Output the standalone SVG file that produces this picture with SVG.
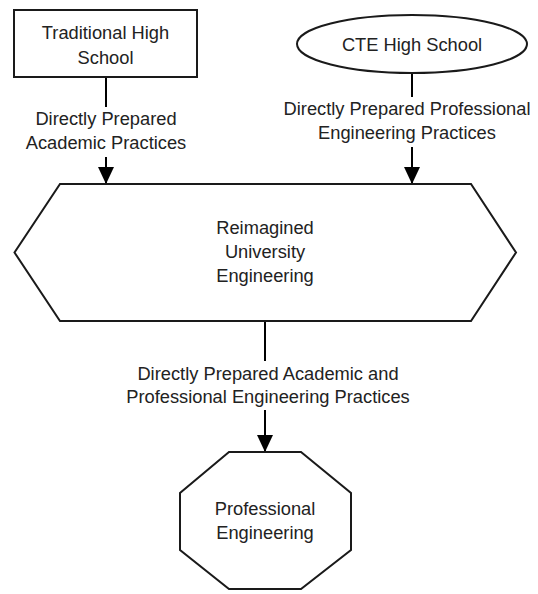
<svg xmlns="http://www.w3.org/2000/svg" width="538" height="594" viewBox="0 0 538 594">
<style>
.shape{fill:#fff;stroke:#1a1a1a;stroke-width:2}
.conn{fill:none;stroke:#000;stroke-width:2}
text{font-family:"Liberation Sans",Arial,sans-serif;font-size:18.3px;fill:#222;text-anchor:middle}
</style>
<defs>
<marker id="arrow" viewBox="0 -8 17 16" refX="17" refY="0" markerWidth="17" markerHeight="16" markerUnits="userSpaceOnUse" orient="auto">
<path d="M0,-8 L17,0 L0,8 Z" fill="#000"/>
</marker>
</defs>
<rect width="538" height="594" fill="#fff"/>
<g id="connectors">
<line class="conn" x1="106" y1="77" x2="106" y2="107"/>
<line class="conn" x1="106" y1="157" x2="106" y2="184" marker-end="url(#arrow)"/>
<line class="conn" x1="412" y1="73" x2="412" y2="97"/>
<line class="conn" x1="412" y1="147" x2="412" y2="184" marker-end="url(#arrow)"/>
<line class="conn" x1="265" y1="321" x2="265" y2="361"/>
<line class="conn" x1="265" y1="410" x2="265" y2="452" marker-end="url(#arrow)"/>
<text x="106" y="125">Directly Prepared</text>
<text x="106" y="149">Academic Practices</text>
<text x="407" y="115">Directly Prepared Professional</text>
<text x="407" y="139">Engineering Practices</text>
<text x="268" y="380">Directly Prepared Academic and</text>
<text x="268" y="403">Professional Engineering Practices</text>
</g>
<g id="traditional">
<rect class="shape" x="14" y="10" width="183" height="67"/>
<text x="105.5" y="39">Traditional High</text>
<text x="105.5" y="64">School</text>
</g>
<g id="cte">
<ellipse class="shape" cx="412" cy="44" rx="115" ry="29"/>
<text x="412" y="51">CTE High School</text>
</g>
<g id="university">
<polygon class="shape" points="60,184 471,184 516,252.5 471,321 60,321 14.5,252.5"/>
<text x="265" y="234">Reimagined</text>
<text x="265" y="258">University</text>
<text x="265" y="282">Engineering</text>
</g>
<g id="professional">
<polygon class="shape" points="229,452 301,452 351,493 351,550 301,589 229,589 180,550 180,493"/>
<text x="265" y="515">Professional</text>
<text x="265" y="539">Engineering</text>
</g>
</svg>
